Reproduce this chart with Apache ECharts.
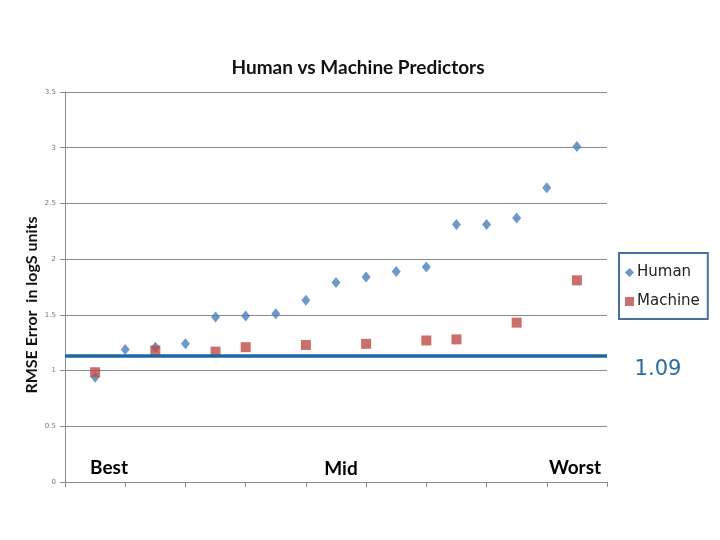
<!DOCTYPE html>
<html>
<head>
<meta charset="utf-8">
<script src="https://cdn.jsdelivr.net/npm/echarts@6/dist/echarts.min.js"></script>
<style>html,body{margin:0;padding:0;background:#fff;}#c{width:720px;height:540px;}</style>
</head>
<body>
<div id="c"></div>
<script>
// ---- data ----
const humanX = [1, 2, 3, 4, 5, 6, 7, 8, 9, 10, 11, 12, 13, 14, 15, 16, 17];
const humanY = [0.94, 1.19, 1.21, 1.24, 1.48, 1.49, 1.51, 1.63, 1.79, 1.84, 1.89, 1.93, 2.31, 2.31, 2.37, 2.64, 3.01];
const machineX = [1, 3, 5, 6, 8, 10, 12, 13, 15, 17];
const machineY = [0.985, 1.18, 1.17, 1.21, 1.23, 1.24, 1.27, 1.28, 1.43, 1.81];
const refLineValue = 1.13;
const refLineLabel = '1.09';
const seriesNames = ['Human', 'Machine'];
const yTicks = [0, 0.5, 1, 1.5, 2, 2.5, 3, 3.5];
const rankLabels = ['Best', 'Mid', 'Worst'];
const titleText = 'Human vs Machine Predictors';
const yAxisTitle = 'RMSE Error  in logS units';

const chart = echarts.init(document.getElementById('c'), null, {renderer: 'canvas'});
const boldFont = 'Lato, "Open Sans", sans-serif';
chart.setOption({
  animation: false,
  backgroundColor: '#ffffff',
  grid: {left: 65, right: 113, top: 92, bottom: 58, containLabel: false},
  xAxis: {
    type: 'value', min: 0, max: 18, interval: 2,
    axisLine: {show: true, lineStyle: {color: '#8a8a8a', width: 1}},
    axisTick: {show: true, length: 5, lineStyle: {color: '#8a8a8a'}},
    axisLabel: {show: false},
    splitLine: {show: false}
  },
  yAxis: {
    type: 'value', min: yTicks[0], max: yTicks[yTicks.length - 1], interval: 0.5,
    axisLine: {show: true, lineStyle: {color: '#8a8a8a', width: 1}},
    axisTick: {show: true, length: 5, lineStyle: {color: '#8a8a8a'}},
    axisLabel: {show: true, fontSize: 7, color: '#777', margin: 9, fontFamily: 'DejaVu Sans'},
    splitLine: {show: true, lineStyle: {color: '#8c8c8c', width: 1}}
  },
  legend: {
    orient: 'vertical', left: 619, top: 253,
    data: [{name: seriesNames[0], icon: 'diamond'}, {name: seriesNames[1], icon: 'rect'}],
    itemWidth: 9, itemHeight: 9, itemGap: 14,
    padding: [12, 8, 10, 6],
    borderColor: '#4a6f9e', borderWidth: 2, borderRadius: 0,
    textStyle: {fontSize: 15, color: '#222', fontFamily: 'DejaVu Sans', padding: [0, 0, 0, -2]}
  },
  series: [
    {
      name: seriesNames[0], type: 'scatter', symbol: 'diamond', symbolSize: [9, 11],
      itemStyle: {color: '#4a7ebb'},
      data: humanX.map((x, i) => [x, humanY[i]]), z: 3
    },
    {
      name: seriesNames[1], type: 'scatter', symbol: 'rect', symbolSize: 10,
      itemStyle: {color: '#be4b48'},
      data: machineX.map((x, i) => [x, machineY[i]]), z: 4,
      markLine: {
        silent: true, symbol: 'none', animation: false,
        lineStyle: {color: '#1f67a1', width: 3.5, type: 'solid'},
        label: {show: false},
        data: [{yAxis: refLineValue}]
      }
    }
  ],
  graphic: [
    {type: 'text', x: 358, y: 68, style: {text: titleText, font: 'bold 19px ' + boldFont, fill: '#111', align: 'center', verticalAlign: 'middle'}},
    {type: 'text', x: 32, y: 305, rotation: Math.PI / 2, style: {text: yAxisTitle, font: 'bold 16px ' + boldFont, fill: '#111', align: 'center', verticalAlign: 'middle'}},
    {type: 'text', x: 109, y: 468, style: {text: rankLabels[0], font: 'bold 19px ' + boldFont, fill: '#000', align: 'center', verticalAlign: 'middle'}},
    {type: 'text', x: 341, y: 469, style: {text: rankLabels[1], font: 'bold 19px ' + boldFont, fill: '#000', align: 'center', verticalAlign: 'middle'}},
    {type: 'text', x: 575, y: 468, style: {text: rankLabels[2], font: 'bold 19px ' + boldFont, fill: '#000', align: 'center', verticalAlign: 'middle'}},
    {type: 'text', x: 658, y: 370, style: {text: refLineLabel, font: '21px "DejaVu Sans"', fill: '#2a6c9c', align: 'center', verticalAlign: 'middle'}}
  ]
});
</script>
</body>
</html>
